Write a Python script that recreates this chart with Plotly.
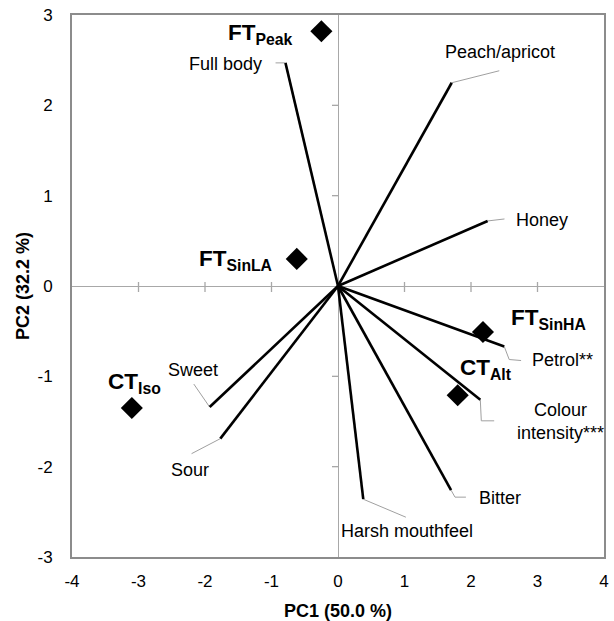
import plotly.graph_objects as go

# Axis titles and ticks
pc1_title = "PC1 (50.0 %)"
pc2_title = "PC2 (32.2 %)"
x_ticks = [-4, -3, -2, -1, 0, 1, 2, 3, 4]
y_ticks = [-3, -2, -1, 0, 1, 2, 3]

# Sample scores
sample_names = ["FT<sub>Peak</sub>", "FT<sub>SinLA</sub>", "CT<sub>Iso</sub>",
                "FT<sub>SinHA</sub>", "CT<sub>Alt</sub>"]
sample_pc1 = [-0.25, -0.62, -3.10, 2.18, 1.80]
sample_pc2 = [2.82, 0.30, -1.35, -0.51, -1.21]

# Attribute loadings
attr_names = ["Full body", "Peach/apricot", "Honey", "Petrol**",
              "Colour<br>intensity***", "Bitter", "Harsh mouthfeel", "Sweet", "Sour"]
attr_pc1 = [-0.79, 1.71, 2.25, 2.50, 2.14, 1.70, 0.38, -1.93, -1.77]
attr_pc2 = [2.47, 2.25, 0.72, -0.67, -1.26, -2.26, -2.36, -1.34, -1.69]

# ---- layout geometry ----
W, H = 614, 621
ML, MR, MT, MB = 72, 5, 15, 64
XR, YR = (-4, 4), (-3, 3)
px_x = (W - ML - MR) / (XR[1] - XR[0])
px_y = (H - MT - MB) / (YR[1] - YR[0])

FONT = "Arial, 'Liberation Sans', Arimo, sans-serif"
AXIS_GREY = "#8c8c8c"
ZERO_GREY = "#a8a8a8"
LEADER_GREY = "#a0a0a0"

# Label placement per attribute: leader path (pixel steps from the tip, y down),
# text anchor and pixel offset of the text from the tip.
attr_style = [
    dict(path=[(-10, 0)], xa="right", ya="middle", off=(-21, 1)),
    dict(path=[(48, -12)], xa="center", ya="middle", off=(48, -31)),
    dict(path=[(17, -2)], xa="left", ya="middle", off=(26, -1)),
    dict(path=[(5, 13), (17, 14)], xa="left", ya="middle", off=(26, 13)),
    dict(path=[(1, 21), (14, 21)], xa="center", ya="middle", off=(80, 22)),
    dict(path=[(4, 7), (15, 7)], xa="left", ya="middle", off=(26, 8)),
    dict(path=[(43, 18)], xa="left", ya="middle", off=(-24, 32)),
    dict(path=[(-16, -23)], xa="center", ya="middle", off=(-17, -37)),
    dict(path=[(-29, 15)], xa="center", ya="middle", off=(-30, 31)),
]

# Sample label placement (anchor, pixel offset from the diamond)
sample_style = [
    dict(xa="right", off=(-26, 3)),
    dict(xa="right", off=(-23, 1)),
    dict(xa="center", off=(3, -25)),
    dict(xa="left", off=(26, -13)),
    dict(xa="left", off=(0, -26)),
]

fig = go.Figure()

# Leader lines
for xv, yv, st in zip(attr_pc1, attr_pc2, attr_style):
    xs, ys = [xv], [yv]
    for dx, dy in st["path"]:
        xs.append(xv + dx / px_x)
        ys.append(yv - dy / px_y)
    fig.add_trace(go.Scatter(x=xs, y=ys, mode="lines",
                             line=dict(color=LEADER_GREY, width=1),
                             hoverinfo="skip", showlegend=False))

# Loading vectors
for name, xv, yv in zip(attr_names, attr_pc1, attr_pc2):
    fig.add_trace(go.Scatter(x=[0, xv], y=[0, yv], mode="lines",
                             line=dict(color="black", width=2.6),
                             name=name.replace("<br>", " "), showlegend=False))

# Sample scores
fig.add_trace(go.Scatter(x=sample_pc1, y=sample_pc2, mode="markers",
                         marker=dict(symbol="diamond", size=17, color="black"),
                         showlegend=False, hoverinfo="x+y"))

# Ticks drawn on the zero lines
shapes = []
for t in x_ticks:
    if t in (0, XR[0], XR[1]):
        continue
    shapes.append(dict(type="line", xref="x", yref="y", x0=t, x1=t,
                       ysizemode="pixel", yanchor=0, y0=-6, y1=4,
                       line=dict(color=ZERO_GREY, width=1.3)))
for t in y_ticks:
    if t in (0, YR[0], YR[1]):
        continue
    shapes.append(dict(type="line", xref="x", yref="y", y0=t, y1=t,
                       xsizemode="pixel", xanchor=0, x0=-6, x1=0,
                       line=dict(color=ZERO_GREY, width=1.3)))

annotations = []
for name, xv, yv, st in zip(attr_names, attr_pc1, attr_pc2, attr_style):
    annotations.append(dict(x=xv, y=yv, xref="x", yref="y", text=name,
                            showarrow=False, xanchor=st["xa"], yanchor=st["ya"],
                            xshift=st["off"][0], yshift=-st["off"][1],
                            align="center",
                            font=dict(family=FONT, size=18, color="black")))
for name, xv, yv, st in zip(sample_names, sample_pc1, sample_pc2, sample_style):
    annotations.append(dict(x=xv, y=yv, xref="x", yref="y", text="<b>" + name + "</b>",
                            showarrow=False, xanchor=st["xa"], yanchor="middle",
                            xshift=st["off"][0], yshift=-st["off"][1],
                            font=dict(family=FONT, size=22.5, color="black")))

# Axis titles
annotations.append(dict(x=0.5, y=0, xref="paper", yref="paper", text="<b>" + pc1_title + "</b>",
                        showarrow=False, xanchor="center", yanchor="middle", yshift=-54,
                        font=dict(family=FONT, size=18, color="black")))
annotations.append(dict(x=0, y=0.5, xref="paper", yref="paper", text="<b>" + pc2_title + "</b>",
                        showarrow=False, xanchor="center", yanchor="middle", xshift=-49,
                        textangle=-90, font=dict(family=FONT, size=18, color="black")))

axis_common = dict(showgrid=False, zeroline=True, zerolinecolor=ZERO_GREY, zerolinewidth=1.3,
                   showline=True, mirror=True, linecolor=AXIS_GREY, linewidth=2,
                   ticks="", tickfont=dict(family=FONT, size=17, color="black"),
                   fixedrange=True)

fig.update_layout(
    width=W, height=H, autosize=False,
    margin=dict(l=ML, r=MR, t=MT, b=MB, pad=0),
    paper_bgcolor="white", plot_bgcolor="white",
    xaxis=dict(range=list(XR), tickvals=x_ticks, ticktext=[str(t) for t in x_ticks],
               ticklabelstandoff=8, **axis_common),
    yaxis=dict(range=list(YR), tickvals=y_ticks, ticktext=[str(t) for t in y_ticks],
               ticklabelstandoff=14, **axis_common),
    shapes=shapes, annotations=annotations,
)

fig.write_html("out.html")
